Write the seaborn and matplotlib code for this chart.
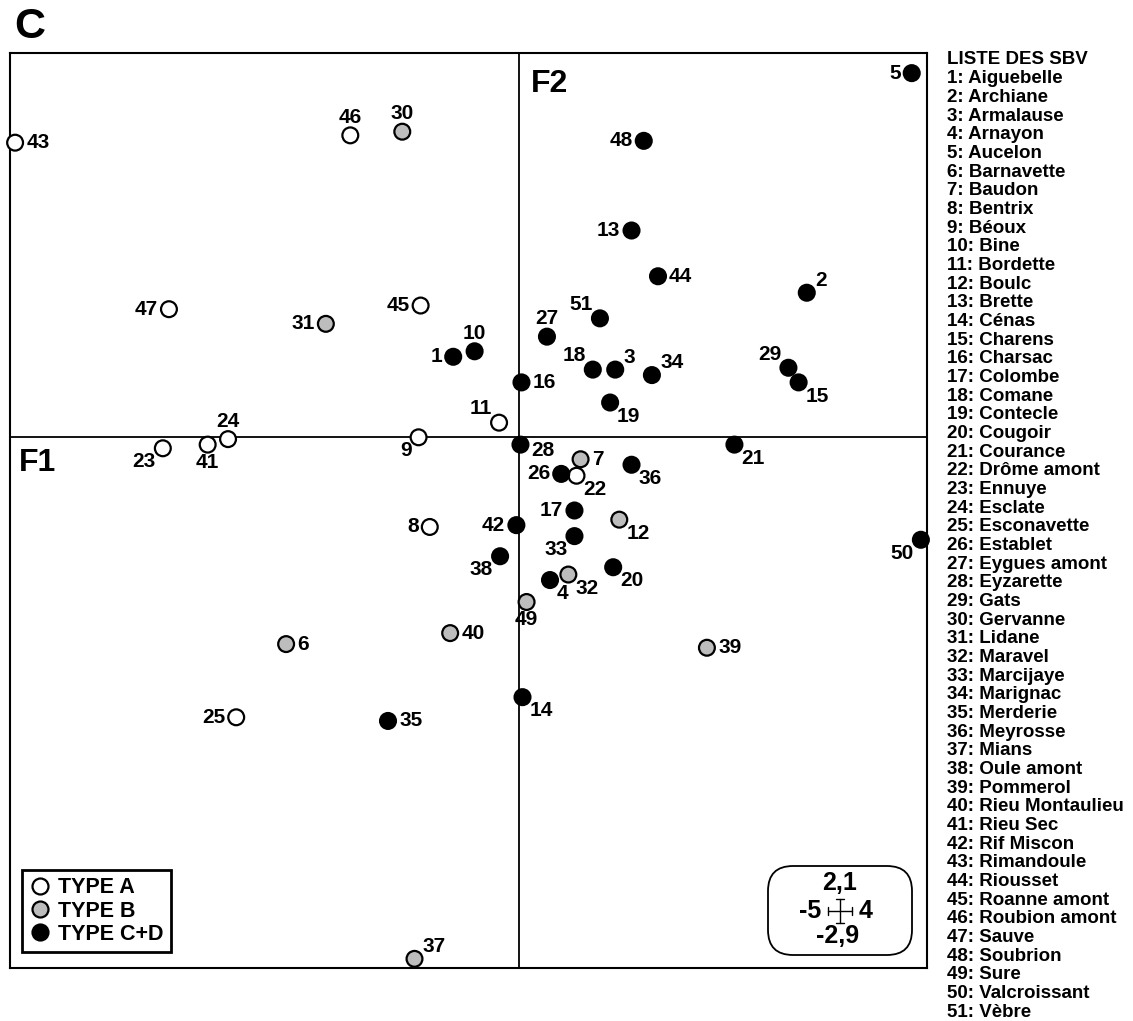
import matplotlib
matplotlib.use("Agg")
import matplotlib.pyplot as plt
import pandas as pd
import seaborn as sns
from matplotlib.lines import Line2D
from matplotlib.patches import FancyBboxPatch

# Sub-watersheds (SBV) projected on the F1 x F2 factorial plane
site_id = list(range(1, 52))
site_name = [
    "Aiguebelle", "Archiane", "Armalause", "Arnayon", "Aucelon", "Barnavette",
    "Baudon", "Bentrix", "Béoux", "Bine", "Bordette", "Boulc", "Brette", "Cénas",
    "Charens", "Charsac", "Colombe", "Comane", "Contecle", "Cougoir", "Courance",
    "Drôme amont", "Ennuye", "Esclate", "Esconavette", "Establet", "Eygues amont",
    "Eyzarette", "Gats", "Gervanne", "Lidane", "Maravel", "Marcijaye", "Marignac",
    "Merderie", "Meyrosse", "Mians", "Oule amont", "Pommerol", "Rieu Montaulieu",
    "Rieu Sec", "Rif Miscon", "Rimandoule", "Riousset", "Roanne amont",
    "Roubion amont", "Sauve", "Soubrion", "Sure", "Valcroissant", "Vèbre",
]
f1 = [
    -0.65, 2.82, 0.94, 0.30, 3.85, -2.29, 0.60, -0.88, -0.99, -0.44,
    -0.20, 0.98, 1.10, 0.03, 2.74, 0.02, 0.54, 0.72, 0.89, 0.92,
    2.11, 0.56, -3.50, -2.86, -2.78, 0.41, 0.27, 0.01, 2.64, -1.15,
    -1.90, 0.48, 0.54, 1.30, -1.29, 1.10, -1.03, -0.19, 1.84, -0.68,
    -3.06, -0.03, -4.95, 1.36, -0.97, -1.66, -3.44, 1.22, 0.07, 3.94,
    0.79,
]
f2 = [
    0.44, 0.79, 0.37, -0.78, 1.99, -1.13, -0.12, -0.49, 0.00, 0.47,
    0.08, -0.45, 1.13, -1.42, 0.30, 0.30, -0.40, 0.37, 0.19, -0.71,
    -0.04, -0.21, -0.06, -0.01, -1.53, -0.20, 0.55, -0.04, 0.38, 1.67,
    0.62, -0.75, -0.54, 0.34, -1.55, -0.15, -2.85, -0.65, -1.15, -1.07,
    -0.04, -0.48, 1.61, 0.88, 0.72, 1.65, 0.70, 1.62, -0.90, -0.56,
    0.65,
]
site_type = [
    "C+D", "C+D", "C+D", "C+D", "C+D", "B", "B", "A", "A", "C+D",
    "A", "B", "C+D", "C+D", "C+D", "C+D", "C+D", "C+D", "C+D", "C+D",
    "C+D", "A", "A", "A", "A", "C+D", "C+D", "C+D", "C+D", "B",
    "B", "B", "C+D", "C+D", "C+D", "C+D", "B", "C+D", "B", "B",
    "A", "C+D", "A", "C+D", "A", "A", "A", "C+D", "B", "C+D",
    "C+D",
]
type_order = ["A", "B", "C+D"]
type_labels = ["TYPE A", "TYPE B", "TYPE C+D"]
xlim = (-5, 4)
ylim = (-2.9, 2.1)

# where each number label sits around its point
label_side = [
    "l", "ur", "ur", "br", "l", "r", "r", "l", "bl", "a",
    "ul", "br", "l", "br", "br", "r", "l", "ul", "br", "br",
    "br", "br", "bl", "a", "l", "l", "a", "rd", "ul", "a",
    "l", "br", "bl", "ur", "r", "br", "ur", "bl", "r", "r",
    "b", "l", "r", "r", "l", "a", "l", "l", "b", "bl",
    "ul",
]
side_style = {
    "r": (8, 0, "left", "center"),
    "rd": (8, -4, "left", "center"),
    "l": (-8, 0, "right", "center"),
    "a": (0, 6, "center", "bottom"),
    "b": (0, -6, "center", "top"),
    "ur": (6, 2, "left", "bottom"),
    "ul": (-5, 3, "right", "bottom"),
    "br": (5, -3, "left", "top"),
    "bl": (-5, -3, "right", "top"),
}

df = pd.DataFrame({"id": site_id, "F1": f1, "F2": f2, "type": site_type})

sns.set_theme(style="white")
plt.rcParams["font.family"] = ["Liberation Sans", "DejaVu Sans"]
plt.rcParams["font.weight"] = "bold"
plt.rcParams["text.color"] = "black"

palette = {"A": "#ffffff", "B": "#bdbdbd", "C+D": "#000000"}

fig = plt.figure(figsize=(11.33, 10.21), dpi=100)
ax = fig.add_axes([10 / 1133, 53 / 1021, 917 / 1133, 915 / 1021])

ax.axhline(0, color="black", lw=1.3, zorder=1)
ax.axvline(0, color="black", lw=1.3, zorder=1)

sns.scatterplot(
    data=df, x="F1", y="F2", hue="type", hue_order=type_order,
    palette=palette, s=130, edgecolor="black", linewidth=1.6,
    legend=False, ax=ax, zorder=3, clip_on=False,
)

for sid, x, y, side in zip(site_id, f1, f2, label_side):
    dx, dy, ha, va = side_style[side]
    ax.annotate(str(sid), (x, y), xytext=(dx, dy), textcoords="offset points",
                ha=ha, va=va, fontsize=15, fontweight="bold", color="black",
                zorder=4)

ax.set_xlim(*xlim)
ax.set_ylim(*ylim)
ax.set_xticks([])
ax.set_yticks([])
ax.set_xlabel("")
ax.set_ylabel("")
for sp in ax.spines.values():
    sp.set_visible(True)
    sp.set_color("black")
    sp.set_linewidth(1.5)

# axis names inside the plane
ax.text(0.010, 0.568, "F1", transform=ax.transAxes, fontsize=23,
        fontweight="bold", ha="left", va="top", color="black")
ax.text(0.568, 0.983, "F2", transform=ax.transAxes, fontsize=23,
        fontweight="bold", ha="left", va="top", color="black")

# legend of the three types
handles = [
    Line2D([], [], ls="", marker="o", markersize=11.5, markeredgewidth=1.6,
           markeredgecolor="black", markerfacecolor=palette[t])
    for t in type_order
]
leg = ax.legend(handles, type_labels, loc="lower left",
                bbox_to_anchor=(0.0128, 0.0172), frameon=True, fancybox=False,
                framealpha=1, edgecolor="black", borderaxespad=0,
                prop={"size": 15.5, "weight": "bold"}, labelspacing=0.1,
                handletextpad=0.35, handlelength=1.0, borderpad=0.35)
leg.get_frame().set_linewidth(2)
for t in leg.get_texts():
    t.set_color("black")

# scale box: extent of each factor
tr = fig.dpi_scale_trans
box = FancyBboxPatch((7.68, 0.66), 1.44, 0.89,
                     boxstyle="round,pad=0,rounding_size=0.25",
                     transform=tr, facecolor="white",
                     edgecolor="black", lw=1.3, zorder=5)
fig.add_artist(box)
fig.text(8.395, 1.38, "2,1", transform=tr, ha="center", va="center",
         fontsize=18, fontweight="bold", zorder=6)
fig.text(8.375, 0.85, "-2,9", transform=tr, ha="center", va="center",
         fontsize=18, fontweight="bold", zorder=6)
fig.text(8.21, 1.10, "-5", transform=tr, ha="right", va="center",
         fontsize=18, fontweight="bold", zorder=6)
fig.text(8.59, 1.10, "4", transform=tr, ha="left", va="center",
         fontsize=18, fontweight="bold", zorder=6)
cx, cy, arm, tick = 8.40, 1.10, 0.118, 0.04
for xs, ys in [
    ([cx - arm, cx + arm], [cy, cy]),
    ([cx, cx], [cy - arm, cy + arm]),
    ([cx - arm, cx - arm], [cy - tick, cy + tick]),
    ([cx + arm, cx + arm], [cy - tick, cy + tick]),
    ([cx - tick, cx + tick], [cy + arm, cy + arm]),
    ([cx - tick, cx + tick], [cy - arm, cy - arm]),
]:
    fig.add_artist(Line2D(xs, ys, transform=tr, color="black", lw=1.0,
                          zorder=6))

# panel letter
fig.text(14 / 1133, 1 - 27 / 1021, "C", fontsize=31, fontweight="bold",
         ha="left", va="center")

# list of sub-watersheds
list_x = 947 / 1133
y0 = 60
step = 18.67
fig.text(list_x, 1 - y0 / 1021, "LISTE DES SBV", fontsize=13.5,
         fontweight="bold", ha="left", va="center")
for i, (sid, name) in enumerate(zip(site_id, site_name), start=1):
    fig.text(list_x, 1 - (y0 + i * step) / 1021, f"{sid}: {name}",
             fontsize=13.5, fontweight="bold", ha="left", va="center")

fig.savefig("out.png", dpi=100, facecolor="white")
